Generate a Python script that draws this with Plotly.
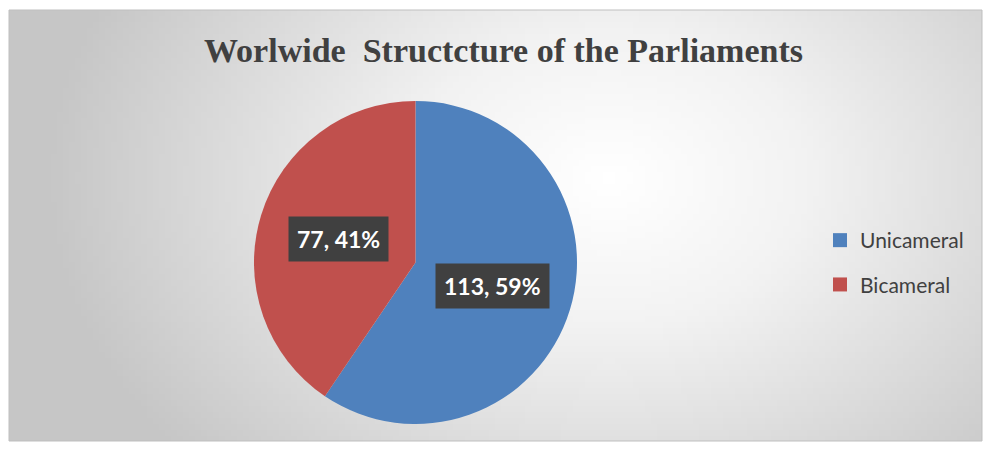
import numpy as np
import plotly.graph_objects as go

categories = ["Unicameral", "Bicameral"]
values = [113, 77]
colors = ["#4F81BD", "#C0504D"]
title_text = "Worlwide  Structcture of the Parliaments"

W, H = 986, 450
# frame (pixels)
fx0, fx1, fy0, fy1 = 9, 982, 10, 441
fw, fh = fx1 - fx0, fy1 - fy0

# pie geometry (pixels)
cx, cy, r = 415.5, 262.5, 161.5

fig = go.Figure()

# background radial gradient via heatmap
gx = np.arange(0, fw, 6) + 3
gy = np.arange(0, fh, 6) + 3
GX, GY = np.meshgrid(gx, gy)
d = np.sqrt(((GX - 600) / 560.0) ** 2 + ((GY - 170) / 420.0) ** 2)
z = np.clip(d, 0, 1)
fig.add_trace(go.Heatmap(
    x=gx, y=gy, z=z, zmin=0, zmax=1,
    colorscale=[[0, "#ffffff"], [0.35, "#f2f2f2"], [1, "#c6c6c6"]],
    showscale=False, hoverinfo="skip", xaxis="x", yaxis="y"))

fig.add_trace(go.Pie(
    labels=categories, values=values, sort=False, direction="clockwise",
    rotation=0, marker=dict(colors=colors, line=dict(width=0)),
    textinfo="none", showlegend=False, hoverinfo="label+value+percent",
    domain=dict(x=[(cx - r) / W, (cx + r) / W],
                y=[1 - (cy + r) / H, 1 - (cy - r) / H])))

# legend entries
for name, col in zip(categories, colors):
    fig.add_trace(go.Scatter(
        x=[None], y=[None], mode="markers", name=name, legendgroup=name,
        marker=dict(symbol="square", size=14, color=col),
        xaxis="x", yaxis="y"))

# data label annotations computed from values
total = sum(values)
start = 0.0
annotations = []
for v in values:
    frac = v / total
    mid = (start + frac / 2) * 2 * np.pi
    start += frac
    px = cx + 0.5 * r * np.sin(mid)
    py = cy - 0.5 * r * np.cos(mid)
    txt = f"{v}, {round(frac * 100)}%"
    annotations.append(dict(
        x=px / W, y=1 - py / H, xref="paper", yref="paper",
        xanchor="center", yanchor="middle",
        text=f"<b>{txt}</b>", showarrow=False, bgcolor="#404040",
        borderpad=8, font=dict(family="Lato", size=23, color="#ffffff")))

annotations.append(dict(
    x=503 / W, y=1 - 51 / H, xref="paper", yref="paper",
    xanchor="center", yanchor="middle",
    text=f"<b>{title_text}</b>", showarrow=False,
    font=dict(family="Liberation Serif", size=34, color="#404040")))

fig.update_layout(
    width=W, height=H, margin=dict(l=0, r=0, t=0, b=0),
    paper_bgcolor="#ffffff", plot_bgcolor="#ffffff",
    xaxis=dict(domain=[fx0 / W, fx1 / W], range=[0, fw], visible=False,
               fixedrange=True),
    yaxis=dict(domain=[1 - fy1 / H, 1 - fy0 / H], range=[fh, 0],
               visible=False, fixedrange=True),
    showlegend=True,
    legend=dict(x=820 / W, y=1 - 220 / H, xanchor="left", yanchor="top",
                bgcolor="rgba(0,0,0,0)", tracegroupgap=14,
                font=dict(family="Lato", size=21, color="#404040"),
                itemwidth=30),
    annotations=annotations,
    shapes=[dict(type="rect", xref="paper", yref="paper",
                 x0=fx0 / W, x1=fx1 / W, y0=1 - fy1 / H, y1=1 - fy0 / H,
                 line=dict(color="#bfbfbf", width=1))],
)

fig.write_html("out.html")
